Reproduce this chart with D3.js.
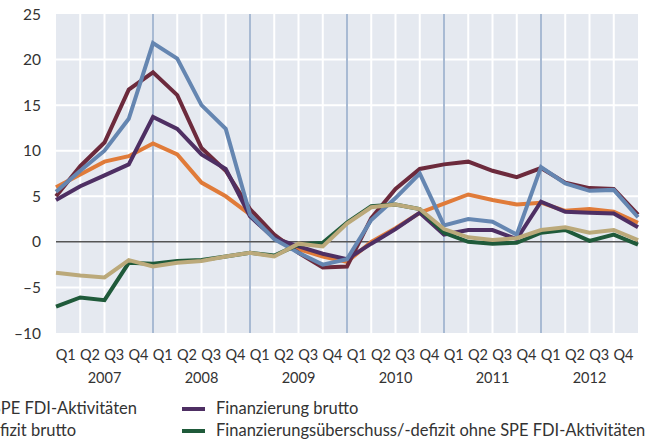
<!DOCTYPE html>
<html>
<head>
<meta charset="utf-8">
<script src="https://cdn.jsdelivr.net/npm/d3@7"></script>
<style>
  body { margin: 0; background: #fff; }
  text { font-family: Lato, "Open Sans", sans-serif; fill: #333; }
</style>
</head>
<body>
<svg id="chart" width="652" height="443"></svg>
<script>
// quarters: first point is Q4 2006, then Q1 2007 .. Q4 2012
var years = ["2007", "2008", "2009", "2010", "2011", "2012"];
var quarterLabels = ["Q1", "Q2", "Q3", "Q4"];
var yTicks = [-10, -5, 0, 5, 10, 15, 20, 25];

var investBrutto = [5.0, 8.3, 10.9, 16.7, 18.6, 16.1, 10.3, 7.8, 3.6, 0.8, -1.2, -2.8, -2.7, 2.6, 5.8, 8.0, 8.5, 8.8, 7.8, 7.1, 8.1, 6.5, 5.9, 5.8, 3.0];
var investOhne = [5.5, 7.8, 10.0, 13.5, 21.8, 20.1, 15.0, 12.4, 3.0, 0.3, -1.2, -2.5, -1.9, 2.4, 4.8, 7.5, 1.8, 2.5, 2.2, 0.8, 8.2, 6.4, 5.6, 5.7, 2.7];
var finBrutto = [4.6, 6.1, 7.3, 8.5, 13.7, 12.4, 9.6, 8.0, 2.8, 0.4, -0.5, -1.3, -1.9, -0.2, 1.4, 3.2, 0.8, 1.3, 1.3, 0.3, 4.4, 3.3, 3.2, 3.1, 1.6];
var finOhne = [6.0, 7.4, 8.8, 9.4, 10.8, 9.6, 6.5, 5.0, 3.0, 0.6, -0.8, -1.6, -2.2, 0.0, 1.5, 3.2, 4.2, 5.2, 4.6, 4.1, 4.3, 3.4, 3.6, 3.3, 2.1];
var saldoBrutto = [-3.4, -3.7, -3.9, -2.0, -2.7, -2.3, -2.1, -1.6, -1.2, -1.6, -0.2, -0.5, 2.0, 3.8, 4.1, 3.6, 1.4, 0.5, 0.2, 0.4, 1.3, 1.6, 1.0, 1.3, 0.2];
var saldoOhne = [-7.1, -6.1, -6.4, -2.3, -2.4, -2.1, -2.0, -1.6, -1.2, -1.5, -0.3, -0.1, 2.1, 3.9, 4.1, 3.6, 1.0, 0.0, -0.2, -0.1, 1.0, 1.3, 0.1, 0.8, -0.3];

var series = [
  { name: "Finanzierung ohne SPE FDI-Aktivitäten", values: finOhne, color: "#e07b39" },
  { name: "Investitionen brutto", values: investBrutto, color: "#6c2a3c" },
  { name: "Finanzierung brutto", values: finBrutto, color: "#4e2f63" },
  { name: "Investitionen ohne SPE FDI-Aktivitäten", values: investOhne, color: "#6586b1" },
  { name: "Finanzierungsüberschuss/-defizit ohne SPE FDI-Aktivitäten", values: saldoOhne, color: "#1f5a3a" },
  { name: "Finanzierungsüberschuss/-defizit brutto", values: saldoBrutto, color: "#bba97a" }
];

var svg = d3.select("#chart");
var pL = 56, pR = 638, pT = 14, pB = 333;
var nPts = investBrutto.length;

var x = d3.scaleLinear().domain([0, nPts - 1]).range([pL, pR]);
var y = d3.scaleLinear().domain([-10, 25]).range([pB, pT]);

svg.append("rect")
  .attr("x", pL).attr("y", pT)
  .attr("width", pR - pL).attr("height", pB - pT)
  .attr("fill", "#e5e9f0");

// grid
svg.append("g").selectAll("line").data(d3.range(1, nPts - 1)).enter().append("line")
  .attr("x1", function(d){ return x(d); }).attr("x2", function(d){ return x(d); })
  .attr("y1", pT).attr("y2", pB)
  .attr("stroke", "#fff").attr("stroke-width", 2);
svg.append("g").selectAll("line").data(yTicks.filter(function(d){ return d != 0 && d != -10 && d != 25; })).enter().append("line")
  .attr("x1", pL).attr("x2", pR)
  .attr("y1", function(d){ return y(d); }).attr("y2", function(d){ return y(d); })
  .attr("stroke", "#fff").attr("stroke-width", 2);

// year separators
svg.append("g").selectAll("line").data(d3.range(1, years.length)).enter().append("line")
  .attr("x1", function(d){ return x(d * 4); }).attr("x2", function(d){ return x(d * 4); })
  .attr("y1", pT).attr("y2", pB)
  .attr("stroke", "#8ba3c4").attr("stroke-width", 1.5);

svg.append("line")
  .attr("x1", pL).attr("x2", pR)
  .attr("y1", y(0)).attr("y2", y(0))
  .attr("stroke", "#555").attr("stroke-width", 1.5);

// y axis labels
svg.append("g").selectAll("text").data(yTicks).enter().append("text")
  .attr("x", 41).attr("y", function(d){ return y(d) + 5.5; })
  .attr("text-anchor", "end").style("font-size", "15.5px")
  .text(function(d){ return d < 0 ? "\u2013" + Math.abs(d) : d; });

// x labels
var qs = [];
years.forEach(function(yr, i){
  quarterLabels.forEach(function(q, j){ qs.push({ q: q, idx: i * 4 + j }); });
});
svg.append("g").selectAll("text").data(qs).enter().append("text")
  .attr("x", function(d){ return x(d.idx + 0.4); }).attr("y", 360)
  .attr("text-anchor", "middle").style("font-size", "14.5px")
  .text(function(d){ return d.q; });
svg.append("g").selectAll("text").data(years).enter().append("text")
  .attr("x", function(d, i){ return x(i * 4 + 2); }).attr("y", 383)
  .attr("text-anchor", "middle").style("font-size", "14.5px")
  .text(function(d){ return d; });

// lines
var line = d3.line()
  .x(function(d, i){ return x(i); })
  .y(function(d){ return y(d); });

svg.append("g").selectAll("path").data(series).enter().append("path")
  .attr("d", function(d){ return line(d.values); })
  .attr("fill", "none")
  .attr("stroke", function(d){ return d.color; })
  .attr("stroke-width", 4)
  .attr("stroke-linejoin", "miter");

// legend (left part runs off the page)
var legend = [
  { s: series[0], x: 137, y: 414, anchor: "end" },
  { s: series[5], x: 76, y: 436, anchor: "end" },
  { s: series[2], x: 216, y: 414, anchor: "start" },
  { s: series[4], x: 216, y: 436, anchor: "start" }
];
legend.forEach(function(l){
  var t = svg.append("text")
    .attr("x", l.x).attr("y", l.y)
    .attr("text-anchor", l.anchor).style("font-size", "16.5px")
    .text(l.s.name);
  var start = l.anchor == "end" ? l.x - t.node().getComputedTextLength() : l.x;
  svg.append("line")
    .attr("x1", start - 34).attr("x2", start - 11)
    .attr("y1", l.y - 5).attr("y2", l.y - 5)
    .attr("stroke", l.s.color).attr("stroke-width", 4);
});
</script>
</body>
</html>
